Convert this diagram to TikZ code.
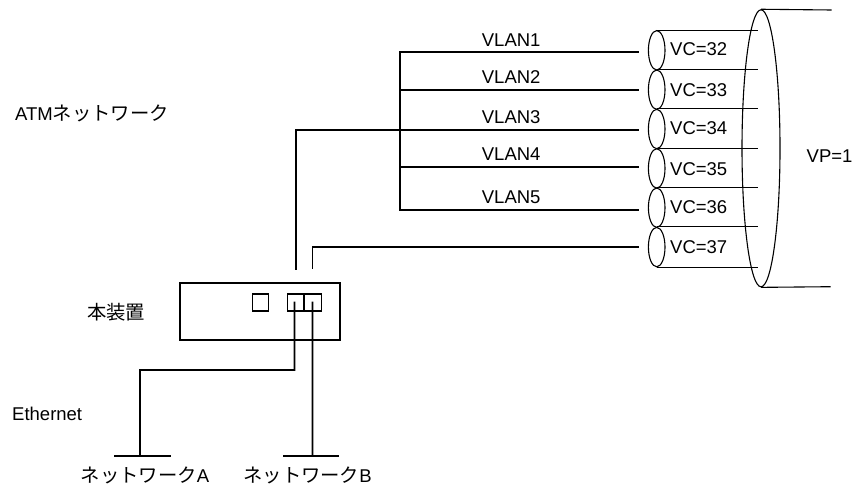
\documentclass[tikz,border=0pt]{standalone}
\usepackage{fontspec}
\setmainfont{Liberation Sans}
\newfontfamily\jpfont[Scale=1.045]{Noto Sans CJK JP}
\usetikzlibrary{shapes.geometric}
\begin{document}
\begin{tikzpicture}[x=1pt,y=-1pt,
  lbl/.style={inner sep=0pt, font=\fontsize{18.5}{20}\selectfont},
  wire/.style={line width=1.7pt, line cap=rect},
  thin/.style={line width=1.1pt},
  vcell/.style={ellipse, draw, line width=1.1pt, minimum width=16.6pt, minimum height=39.4pt, inner sep=0pt},
  vpath/.style={ellipse, draw, line width=1.1pt, minimum width=38pt, minimum height=277pt, inner sep=0pt},
  devbox/.style={draw, line width=1.7pt, minimum width=160pt, minimum height=57.3pt, inner sep=0pt},
  port/.style={draw, line width=1.1pt, minimum width=16.8pt, minimum height=17pt, inner sep=0pt}]
\useasboundingbox (0,0) rectangle (853,485);

% VP bundle
\node[vpath] (vp) at (761,148.3) {};
\coordinate (vptopend) at (831.7,10);
\coordinate (vpbotend) at (830.5,286.7);
\draw[thin] (vp.north) -- (vptopend);
\draw[thin] (vp.south) -- (vpbotend);

% VC tubes
\node[vcell] (e32) at (656.7,50.3) {};
\node[vcell] (e33) at (656.7,89.7) {};
\node[vcell] (e34) at (656.7,129.0) {};
\node[vcell] (e35) at (656.7,168.4) {};
\node[vcell] (e36) at (656.7,207.7) {};
\node[vcell] (e37) at (656.7,247.1) {};
\foreach \e in {e32,e33,e34,e35,e36,e37}{
  \draw[thin] (\e.north) -- ++(101.5,0);
}
\draw[thin] (e37.south) -- ++(101.5,0);

\node[lbl, anchor=west] (l32) at (670,49.3) {VC=32};
\node[lbl, anchor=west] (l33) at (670,90.0) {VC=33};
\node[lbl, anchor=west] (l34) at (670,128.6) {VC=34};
\node[lbl, anchor=west] (l35) at (670,169.3) {VC=35};
\node[lbl, anchor=west] (l36) at (670,207.5) {VC=36};
\node[lbl, anchor=west] (l37) at (670,246.7) {VC=37};
\node[lbl, anchor=west] (lvp) at (806.5,156.5) {VP=1};

% VLAN lines
\coordinate (b1) at (400,51.7);
\coordinate (b2) at (400,90);
\coordinate (b4) at (400,166.7);
\coordinate (b5) at (400,210);
\coordinate (v1) at (638.3,51.7);
\coordinate (v2) at (638.3,90);
\coordinate (v3) at (638.3,130);
\coordinate (v4) at (638.3,166.7);
\coordinate (v5) at (638.3,210);
\coordinate (v7) at (638.3,246.7);
\draw[wire] (v1) -- (b1) -- (b5) -- (v5);
\draw[wire] (b2) -- (v2);
\draw[wire] (b4) -- (v4);

\node[lbl, anchor=west] (n1) at (481.7,40) {VLAN1};
\node[lbl, anchor=west] (n2) at (481.7,77.5) {VLAN2};
\node[lbl, anchor=west] (n3) at (481.7,116.7) {VLAN3};
\node[lbl, anchor=west] (n4) at (481.7,154) {VLAN4};
\node[lbl, anchor=west] (n5) at (481.7,197.3) {VLAN5};

% device
\node[devbox] (dev) at (260,311.3) {};
\node[port] (sq) at (260.5,302.5) {};
\node[port] (pa) at (295.6,302.5) {};
\node[port] (pb) at (312.8,302.5) {};

\coordinate (ua) at (296,269);
\coordinate (ub) at (312.4,268.3);
\draw[wire] (ua) -- (296,130) -- (v3);
\draw[wire] (ub) -- (312.4,246.7) -- (v7);

% Ethernet side
\coordinate (gA) at (140,456);
\coordinate (gB) at (312.4,456);
\draw[wire] (pa.center) ++(-1.2,0) -- (294.4,370) -- (140,370) -- (gA);
\draw[wire] (pb.center) ++(-0.4,0) -- (gB);
\draw[wire] (gA) ++(-25,0) -- ++(55,0);
\draw[wire] (gB) ++(-29,0) -- ++(55,0);

\node[lbl, anchor=base, text depth=0pt] (na) at (145,482.3) {{\jpfont ネットワーク}A};
\node[lbl, anchor=base, text depth=0pt] (nb) at (307.5,482.3) {{\jpfont ネットワーク}B};
\node[lbl, anchor=west] (eth) at (12,414) {Ethernet};
\node[lbl] (hon) at (116,312) {\jpfont 本装置};
\node[lbl, anchor=west] (atm) at (15,113) {ATM{\jpfont ネットワーク}};
\end{tikzpicture}
\end{document}
